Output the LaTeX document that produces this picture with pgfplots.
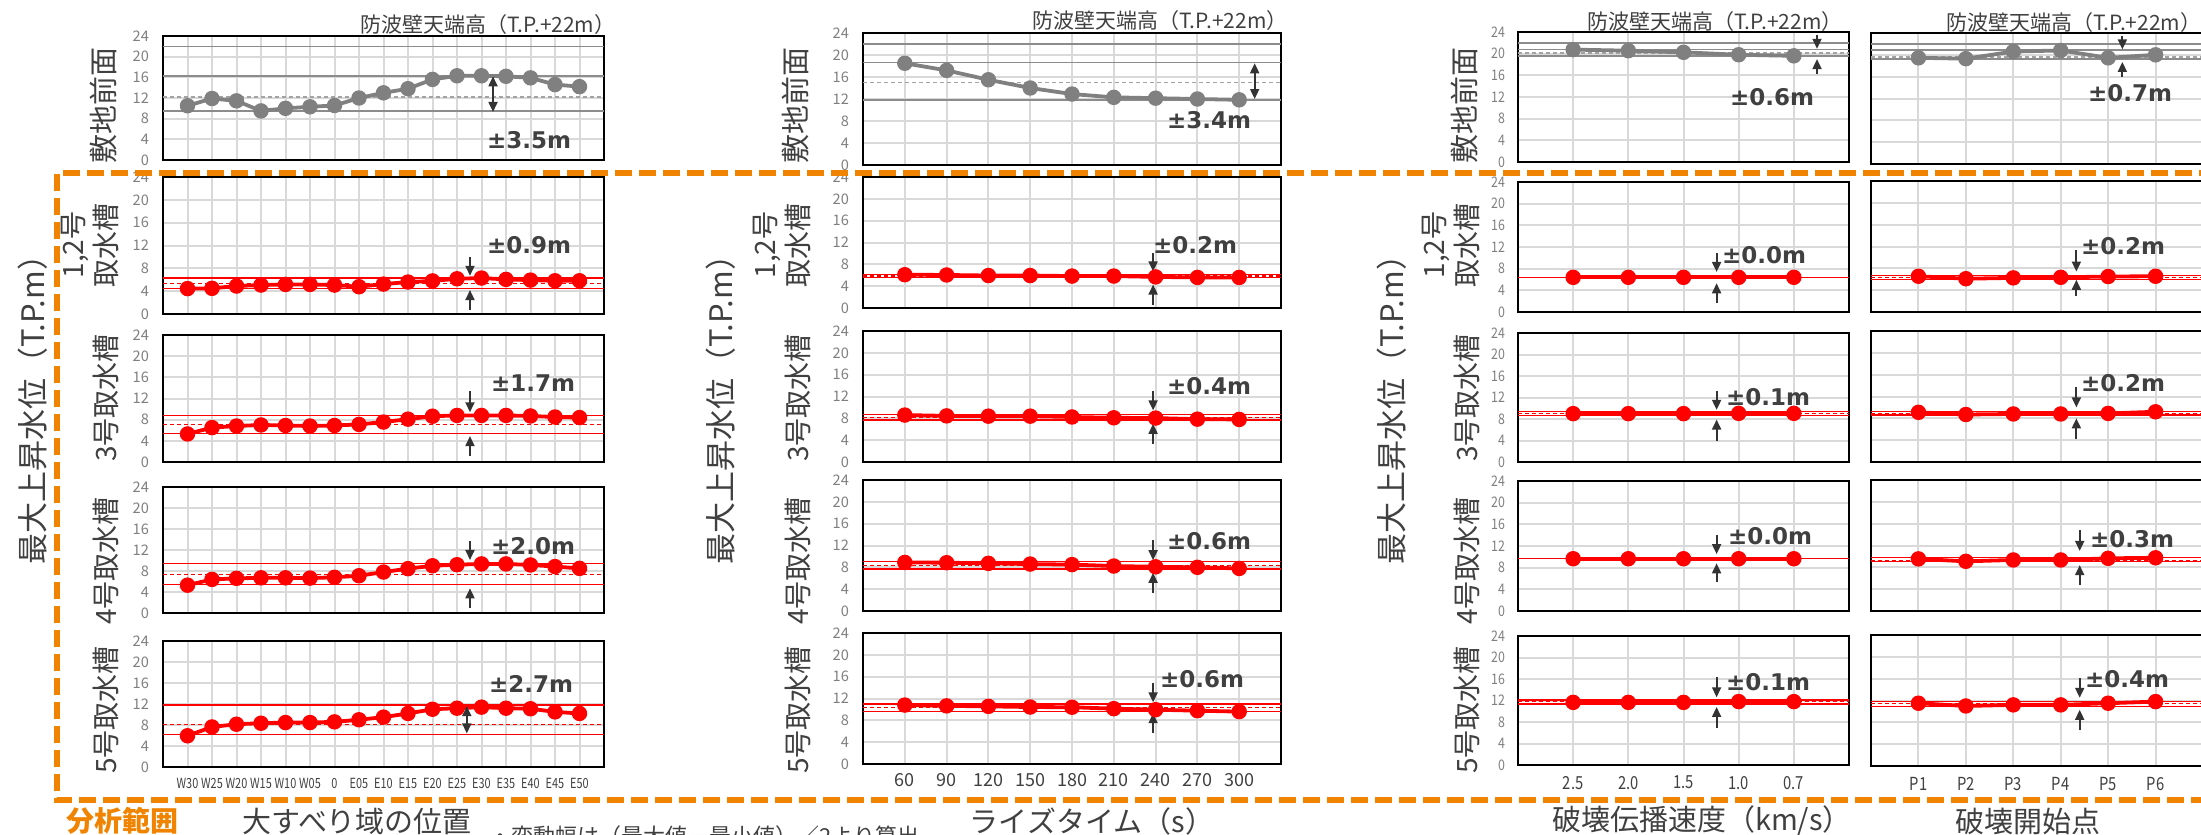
\documentclass[border=0pt]{standalone}
\usepackage{fontspec}
\usepackage{pgfplots}
\pgfplotsset{compat=1.18}
\usetikzlibrary{arrows.meta}
\setmainfont{Noto Sans CJK JP}
\newfontfamily\jp{Noto Sans CJK JP}
\newfontfamily\dvb{DejaVu Sans}
\definecolor{gridc}{HTML}{D9D9D9}
\definecolor{tickc}{HTML}{7F7F7F}
\definecolor{labc}{HTML}{404040}
\definecolor{grayser}{HTML}{808080}
\definecolor{grayline}{HTML}{8C8C8C}
\definecolor{orng}{HTML}{F08300}
\definecolor{arrc}{HTML}{333333}
\pgfplotsset{
  panel/.style={scale only axis, anchor=north west, ymin=0, ymax=24, ytick={0,4,...,24},
    xmajorgrids, ymajorgrids, major grid style={draw=gridc, line width=1pt},
    axis line style={draw=black, line width=1pt}, major tick length=0pt, tick style={draw=none},
    yticklabel style={font=\jp\fontsize{7.3}{8}\selectfont, text=tickc}, yticklabel shift=3.5pt,
    /pgf/number format/assume math mode=true, clip=false, xticklabels={}},
  c1/.style={panel, xmin=-1, xmax=17, xtick={0,...,16}, width=220.5pt},
  c2/.style={panel, xmin=-1, xmax=9, xtick={0,...,8}, width=209pt},
  c3/.style={panel, xmin=-1, xmax=5, xtick={0,...,4}, width=165.5pt, yticklabel style={xscale=0.85}},
  c4/.style={panel, xmin=-1, xmax=6, xtick={0,...,5}, width=166pt, yticklabels={}},
  redser/.style={color=red, line width=1.9pt, mark=*, mark size=2.9pt, mark options={solid, fill=red, draw=red}},
  grayser/.style={color=grayser, line width=1.9pt, mark=*, mark size=2.9pt, mark options={solid, fill=grayser, draw=grayser}},
  redref/.style={draw=red, line width=0.6pt, mark=none},
  redrefd/.style={draw=red, line width=0.6pt, mark=none, dash pattern=on 2pt off 1.5pt},
  grayref/.style={draw=grayline, line width=0.75pt, mark=none},
  grayrefd/.style={draw=grayline!80, line width=0.75pt, mark=none, dash pattern=on 2pt off 1.5pt},
  arrst/.style={draw=arrc, line width=0.9pt, mark=none, -{Triangle[length=5pt,width=4.5pt]}},
  darrst/.style={draw=arrc, line width=0.9pt, mark=none, {Triangle[length=5pt,width=4.5pt]}-{Triangle[length=5pt,width=4.5pt]}},
}
% xmin xmax max min dashed
\newcommand{\rl}[5]{%
  \addplot[redref] coordinates {(#1,#3) (#2,#3)};
  \addplot[redref] coordinates {(#1,#4) (#2,#4)};
  \addplot[redrefd] coordinates {(#1,#5) (#2,#5)};}
\newcommand{\gl}[5]{%
  \addplot[grayref] coordinates {(#1,22) (#2,22)};
  \addplot[grayref] coordinates {(#1,#3) (#2,#3)};
  \addplot[grayref] coordinates {(#1,#4) (#2,#4)};
  \addplot[grayrefd] coordinates {(#1,#5) (#2,#5)};}
% x, down from, down to, up from, up to
\newcommand{\arr}[5]{%
  \addplot[arrst] coordinates {(#1,#2) (#1,#3)};
  \addplot[arrst] coordinates {(#1,#4) (#1,#5)};}
\newcommand{\darr}[3]{\addplot[darrst] coordinates {(#1,#2) (#1,#3)};}
\begin{document}
\begin{tikzpicture}
\path[use as bounding box] (0,0) rectangle (1100.5pt,-417.5pt);
\clip (0,0) rectangle (1100.5pt,-417.5pt);
% ================= Column 1 =================
\begin{axis}[c1, at={(81.5pt,-18pt)}, height=62pt]
\gl{-1}{17}{16.3}{9.5}{12.2}
\addplot[grayser] coordinates {(0,10.5) (1,11.9) (2,11.45) (3,9.5) (4,10.0) (5,10.3) (6,10.55) (7,12.0) (8,13.0) (9,13.8) (10,15.6) (11,16.3) (12,16.3) (13,16.2) (14,15.9) (15,14.6) (16,14.2)};
\darr{12.47}{16.2}{9.3}
\end{axis}
\begin{axis}[c1, at={(81.5pt,-88.5pt)}, height=68.5pt]
\rl{-1}{17}{6.3}{4.5}{5.35}
\addplot[redser] coordinates {(0,4.45) (1,4.5) (2,4.9) (3,5.07) (4,5.18) (5,5.18) (6,5.07) (7,4.78) (8,5.24) (9,5.6) (10,5.8) (11,6.17) (12,6.3) (13,6.06) (14,5.94) (15,5.82) (16,5.82)};
\arr{11.53}{10.0}{6.7}{0.7}{4.2}
\end{axis}
\begin{axis}[c1, at={(81.5pt,-167.5pt)}, height=63.5pt]
\rl{-1}{17}{8.75}{5.4}{7.05}
\addplot[redser] coordinates {(0,5.3) (1,6.5) (2,6.8) (3,7.0) (4,6.9) (5,6.8) (6,6.9) (7,7.1) (8,7.55) (9,8.1) (10,8.65) (11,8.8) (12,8.8) (13,8.8) (14,8.7) (15,8.5) (16,8.4)};
\arr{11.53}{13.4}{9.4}{1.1}{4.9}
\end{axis}
\begin{axis}[c1, at={(81.5pt,-243.5pt)}, height=63pt]
\rl{-1}{17}{9.5}{5.4}{7.4}
\addplot[redser] coordinates {(0,5.3) (1,6.4) (2,6.6) (3,6.7) (4,6.7) (5,6.65) (6,6.8) (7,7.1) (8,7.8) (9,8.45) (10,9.0) (11,9.2) (12,9.35) (13,9.35) (14,9.15) (15,8.85) (16,8.5)};
\arr{11.53}{13.7}{10.1}{0.9}{4.7}
\end{axis}
\begin{axis}[c1, at={(81.5pt,-320.5pt)}, height=63pt,
  xticklabels={W30,W25,W20,W15,W10,W05,0,E05,E10,E15,E20,E25,E30,E35,E40,E45,E50},
  xticklabel style={font=\jp\fontsize{7}{8}\selectfont, text=labc, xscale=0.78}, xticklabel shift=2pt]
\rl{-1}{17}{11.8}{6.15}{8.1}
\addplot[redser] coordinates {(0,5.95) (1,7.63) (2,8.15) (3,8.34) (4,8.47) (5,8.47) (6,8.6) (7,9.0) (8,9.5) (9,10.2) (10,11.0) (11,11.2) (12,11.4) (13,11.2) (14,11.1) (15,10.5) (16,10.2)};
\darr{11.4}{11.6}{6.4}
\end{axis}
% ================= Column 2 =================
\begin{axis}[c2, at={(431.5pt,-16.5pt)}, height=66pt]
\gl{-1}{9}{18.6}{11.8}{15.0}
\addplot[grayser] coordinates {(0,18.5) (1,17.2) (2,15.5) (3,14.0) (4,12.9) (5,12.3) (6,12.15) (7,12.0) (8,11.85)};
\darr{8.37}{18.5}{12.0}
\end{axis}
\begin{axis}[c2, at={(431.5pt,-88.5pt)}, height=65.5pt]
\rl{-1}{9}{6.15}{5.55}{5.85}
\addplot[redser] coordinates {(0,6.1) (1,6.05) (2,5.95) (3,5.95) (4,5.85) (5,5.85) (6,5.7) (7,5.6) (8,5.6)};
\arr{5.94}{10.0}{6.7}{0.6}{4.3}
\end{axis}
\begin{axis}[c2, at={(431.5pt,-165.5pt)}, height=65.5pt]
\rl{-1}{9}{8.75}{7.7}{8.2}
\addplot[redser] coordinates {(0,8.6) (1,8.45) (2,8.4) (3,8.4) (4,8.25) (5,8.1) (6,8.05) (7,7.85) (8,7.8)};
\arr{5.94}{12.95}{9.46}{3.36}{7.0}
\end{axis}
\begin{axis}[c2, at={(431.5pt,-240pt)}, height=65.5pt]
\rl{-1}{9}{9.0}{7.7}{8.4}
\addplot[redser] coordinates {(0,8.9) (1,8.85) (2,8.73) (3,8.6) (4,8.5) (5,8.24) (6,8.1) (7,8.0) (8,7.8)};
\arr{5.94}{13.0}{9.3}{3.36}{7.0}
\end{axis}
\begin{axis}[c2, at={(431.5pt,-316.5pt)}, height=65.5pt,
  xticklabels={60,90,120,150,180,210,240,270,300},
  xticklabel style={font=\jp\fontsize{9}{10}\selectfont, text=labc}, xticklabel shift=1pt]
\rl{-1}{9}{11.0}{9.65}{10.4}
\addplot[redser] coordinates {(0,10.8) (1,10.65) (2,10.56) (3,10.44) (4,10.4) (5,10.14) (6,9.95) (7,9.77) (8,9.6)};
\arr{5.94}{14.84}{11.3}{5.7}{9.3}
\end{axis}
% ================= Column 3 =================
\begin{axis}[c3, at={(759pt,-16pt)}, height=65pt]
\gl{-1}{5}{20.8}{19.55}{20.1}
\addplot[grayser] coordinates {(0,20.75) (1,20.55) (2,20.25) (3,19.8) (4,19.6)};
\arr{4.42}{23.5}{20.9}{16.3}{19.0}
\end{axis}
\begin{axis}[c3, at={(759pt,-91pt)}, height=65pt]
\rl{-1}{5}{6.4}{6.4}{6.4}
\addplot[redser] coordinates {(0,6.4) (1,6.4) (2,6.4) (3,6.4) (4,6.4)};
\arr{2.6}{10.95}{7.4}{1.7}{5.3}
\end{axis}
\begin{axis}[c3, at={(759pt,-166.5pt)}, height=64.5pt]
\rl{-1}{5}{9.35}{8.7}{9.0}
\addplot[redser] coordinates {(0,9.0) (1,9.0) (2,9.0) (3,9.05) (4,9.05)};
\arr{2.6}{13.3}{9.7}{4.0}{7.9}
\end{axis}
\begin{axis}[c3, at={(759pt,-240.5pt)}, height=65pt]
\rl{-1}{5}{9.7}{9.7}{9.7}
\addplot[redser] coordinates {(0,9.65) (1,9.65) (2,9.65) (3,9.65) (4,9.65)};
\arr{2.6}{14.1}{10.5}{5.3}{8.8}
\end{axis}
\begin{axis}[c3, at={(759pt,-318pt)}, height=64.5pt,
  xticklabels={2.5,2.0,1.5,1.0,0.7},
  xticklabel style={font=\jp\fontsize{9}{10}\selectfont, text=labc, xscale=0.82}, xticklabel shift=2pt]
\rl{-1}{5}{12.1}{11.35}{11.75}
\addplot[redser] coordinates {(0,11.65) (1,11.65) (2,11.65) (3,11.8) (4,11.8)};
\arr{2.6}{16.4}{12.6}{6.8}{10.8}
\end{axis}
% ================= Column 4 =================
\begin{axis}[c4, at={(935.5pt,-16.5pt)}, height=65.5pt]
\gl{-1}{6}{20.85}{19.25}{19.6}
\addplot[grayser] coordinates {(0,19.45) (1,19.3) (2,20.6) (3,20.8) (4,19.45) (5,20.0)};
\arr{4.3}{23.4}{21.0}{15.9}{18.7}
\end{axis}
\begin{axis}[c4, at={(935.5pt,-90.5pt)}, height=65.5pt]
\rl{-1}{6}{6.65}{6.0}{6.3}
\addplot[redser] coordinates {(0,6.55) (1,6.1) (2,6.25) (3,6.35) (4,6.5) (5,6.55)};
\arr{3.33}{11.4}{7.4}{2.9}{5.9}
\end{axis}
\begin{axis}[c4, at={(935.5pt,-165.5pt)}, height=65.5pt]
\rl{-1}{6}{9.3}{8.6}{8.95}
\addplot[redser] coordinates {(0,9.1) (1,8.7) (2,8.8) (3,8.8) (4,8.9) (5,9.2)};
\arr{3.33}{13.7}{10.0}{4.3}{8.0}
\end{axis}
\begin{axis}[c4, at={(935.5pt,-240pt)}, height=65.5pt]
\rl{-1}{6}{9.8}{9.0}{9.3}
\addplot[redser] coordinates {(0,9.55) (1,9.1) (2,9.35) (3,9.35) (4,9.65) (5,9.75)};
\arr{3.4}{14.8}{11.0}{4.8}{8.4}
\end{axis}
\begin{axis}[c4, at={(935.5pt,-317.5pt)}, height=65.5pt,
  xticklabels={P1,P2,P3,P4,P5,P6},
  xticklabel style={font=\jp\fontsize{9}{10}\selectfont, text=labc, xscale=0.82}, xticklabel shift=2pt]
\rl{-1}{6}{11.85}{10.95}{11.4}
\addplot[redser] coordinates {(0,11.5) (1,11.0) (2,11.2) (3,11.2) (4,11.5) (5,11.8)};
\arr{3.4}{16.1}{12.5}{6.6}{10.3}
\end{axis}
% ================= Texts =================
\begin{scope}[x=0.5pt, y=-0.5pt]
\tikzset{pm/.style={font=\dvb\bfseries\fontsize{11.5}{13}\selectfont, text=labc, inner sep=0pt},
  ttl/.style={font=\jp\fontsize{10.5}{12}\selectfont, text=labc, inner sep=0pt},
  rowl/.style={font=\jp\fontsize{14}{16.5}\selectfont, text=labc, rotate=90, inner sep=0pt, align=center},
  bigl/.style={font=\jp\fontsize{15.5}{18}\selectfont, text=labc, rotate=90, inner sep=0pt},
  botl/.style={font=\jp\fontsize{14.5}{17}\selectfont, text=labc, inner sep=0pt}}
% plus-minus labels
\node[pm] at (529,140) {±3.5m};
\node[pm] at (529,245) {±0.9m};
\node[pm] at (533,383) {±1.7m};
\node[pm] at (533,546) {±2.0m};
\node[pm] at (531,684) {±2.7m};
\node[pm] at (1209,120) {±3.4m};
\node[pm] at (1195,245) {±0.2m};
\node[pm] at (1209,386) {±0.4m};
\node[pm] at (1209,541) {±0.6m};
\node[pm] at (1202,679) {±0.6m};
\node[pm] at (1772,97) {±0.6m};
\node[pm] at (1764,255) {±0.0m};
\node[pm] at (1768,397) {±0.1m};
\node[pm] at (1770,536) {±0.0m};
\node[pm] at (1768,682) {±0.1m};
\node[pm] at (2130,93) {±0.7m};
\node[pm] at (2123,246) {±0.2m};
\node[pm] at (2123,383) {±0.2m};
\node[pm] at (2132,539) {±0.3m};
\node[pm] at (2127,679) {±0.4m};
% titles
\node[ttl] at (488,25) {防波壁天端高（T.P.+22m）};
\node[ttl] at (1160,21) {防波壁天端高（T.P.+22m）};
\node[ttl] at (1715,22) {防波壁天端高（T.P.+22m）};
\node[ttl, anchor=west] at (1946,23) {防波壁天端高（T.P.+22m）};
% row labels
\foreach \xx/\xd in {103/90, 795/782, 1464/1451}{
  \node[rowl, font=\jp\fontsize{14.5}{16.5}\selectfont] at (\xx,105) {敷地前面};
  \node[rowl] at (\xd,245) {1,2号\\取水槽};
  \node[rowl] at (\xx+3,398) {3号取水槽};
  \node[rowl] at (\xx+3,561) {4号取水槽};
  \node[rowl] at (\xx+3,710) {5号取水槽};
}
\node[bigl] at (33,402) {最大上昇水位（T.P.m）};
\node[bigl] at (721,402) {最大上昇水位（T.P.m）};
\node[bigl] at (1392,402) {最大上昇水位（T.P.m）};
% bottom labels
\node[botl, text=orng, font=\jp\bfseries\fontsize{14}{17}\selectfont] at (122,821) {分析範囲};
\node[botl] at (357,821) {大すべり域の位置};
\node[font=\jp\fontsize{11}{13}\selectfont, text=labc, anchor=west, inner sep=0pt] at (489,836) {・変動幅は（最大値－最小値）／2より算出};
\node[botl] at (1092,821) {ライズタイム（s）};
\node[botl] at (1702,821) {破壊伝播速度（km/s）};
\node[botl] at (2028,821) {破壊開始点};
% orange dashed box
\draw[orng, line width=2.75pt, dash pattern=on 8.5pt off 3.5pt] (2240,173) -- (57,173) -- (57,800) -- (2240,800);
\end{scope}
\end{tikzpicture}
\end{document}
